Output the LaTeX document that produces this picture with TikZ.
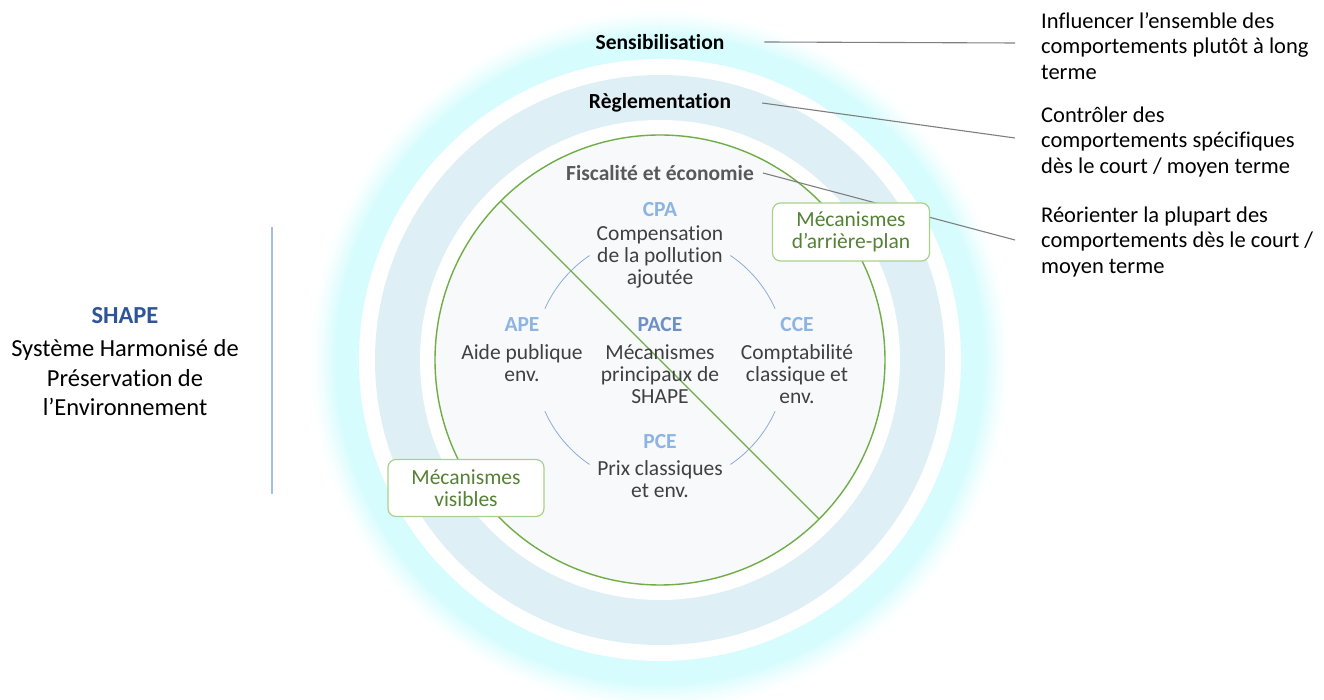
\documentclass[tikz,border=0pt]{standalone}
\usepackage{fontspec}
\setmainfont{Carlito}[Ligatures={NoCommon}]
\definecolor{glow}{RGB}{214,252,253}
\definecolor{ringblue}{RGB}{222,239,245}
\definecolor{innerfill}{RGB}{247,249,251}
\definecolor{circgreen}{RGB}{112,173,71}
\definecolor{mechgreen}{RGB}{84,130,53}
\definecolor{boxgreen}{RGB}{169,209,142}
\definecolor{acroblue}{RGB}{141,180,226}
\definecolor{paceblue}{RGB}{111,143,199}
\definecolor{shapeblue}{RGB}{47,85,151}
\definecolor{arcblue}{RGB}{143,170,220}
\definecolor{sideblue}{RGB}{164,189,230}
\definecolor{bodygray}{RGB}{64,64,64}
\definecolor{fiscgray}{RGB}{89,89,89}
\definecolor{leadgray}{RGB}{127,127,127}
\begin{document}
\begin{tikzpicture}[x=1pt, y=1pt,
    every node/.style={font=\fontsize{21.5}{22}\selectfont, align=center, inner sep=0pt},
    ringlabel/.style={font=\fontsize{21.5}{22}\selectfont\bfseries},
    acro/.style={font=\fontsize{21.5}{22}\selectfont\bfseries, text=acroblue},
    desc/.style={text=bodygray},
    mech/.style={draw=boxgreen, line width=1.2pt, fill=white, rounded corners=8pt, text=mechgreen, minimum width=157pt, minimum height=58pt},
    lead/.style={draw=leadgray, line width=1.1pt},
    cycarc/.style={draw=arcblue, line width=0.8pt},
    aim/.style={anchor=west, align=left, font=\fontsize{22.5}{25.5}\selectfont}]
    \useasboundingbox (-660,-340) rectangle (664,360);
    % rings, soft outer glow first
    \foreach \r in {350,349,...,324} {
        \pgfmathsetmacro\p{100*((350-\r)/26)^1.3}
        \fill[glow!\p!white] (0,0) circle (\r pt);
    }
    \fill[white] (0,0) circle (301pt);
    \fill[ringblue] (0,0) circle (285pt);
    \fill[white] (0,0) circle (240pt);
    \filldraw[fill=innerfill, draw=circgreen, line width=1.4pt] (0,0) circle (225pt);
    % cycle arcs
    \foreach \a in {24,124,204,304}
        \draw[cycarc] (\a:126pt) arc[start angle=\a, end angle=\a+32, radius=126pt];
    \draw[circgreen, line width=1.4pt] (135:225pt) -- (-45:225pt);
    % ring labels
    \node[ringlabel] (sens) at (0,318) {Sensibilisation};
    \node[ringlabel] (regl) at (0,257) {Règlementation};
    \node[ringlabel, text=fiscgray] (fisc) at (0,187) {Fiscalité et économie};
    % mechanisms
    \node[acro] (cpa) at (0,150) {CPA};
    \node[desc] (cpatxt) at (0,103) {Compensation\\de la pollution\\ajoutée};
    \node[acro] (ape) at (-138,35) {APE};
    \node[desc] (apetxt) at (-138,-3) {Aide publique\\env.};
    \node[acro, text=paceblue] (pace) at (0,35) {PACE};
    \node[desc] (pacetxt) at (0,-14) {Mécanismes\\principaux de\\SHAPE};
    \node[acro] (cce) at (137,35) {CCE};
    \node[desc] (ccetxt) at (137,-14) {Comptabilité\\classique et\\env.};
    \node[acro] (pce) at (0,-82) {PCE};
    \node[desc] (pcetxt) at (0,-119) {Prix classiques\\et env.};
    % aims on the right
    \node[aim] (aim1) at (381,314) {Influencer l’ensemble des\\comportements plutôt à long\\terme};
    \node[aim] (aim2) at (381,218) {Contrôler des\\comportements spécifiques\\dès le court / moyen terme};
    \node[aim] (aim3) at (381,118) {Réorienter la plupart des\\comportements dès le court /\\moyen terme};
    \coordinate (e1) at (355,317);
    \coordinate (e2) at (355,222);
    \coordinate (e3) at (355,120);
    \draw[lead] ([xshift=40pt]sens.east) -- (e1);
    \draw[lead] ([xshift=31pt]regl.east) -- (e2);
    \draw[lead] ([xshift=9pt]fisc.east) -- (e3);
    % mechanism boxes
    \node[mech] (bgmech) at (191,128) {Mécanismes\\d’arrière-plan};
    \node[mech, minimum width=156pt, minimum height=57pt] (vismech) at (-194,-128) {Mécanismes\\visibles};
    % left title
    \node[font=\fontsize{24.5}{29.5}\selectfont\bfseries, text=shapeblue] (shape) at (-535,44) {SHAPE};
    \node[font=\fontsize{24.5}{29.5}\selectfont] (shapetxt) at (-535,-18) {Système Harmonisé de\\Préservation de\\l’Environnement};
    \coordinate (v1) at (-388,133);
    \coordinate (v2) at (-388,-134);
    \draw[sideblue, line width=1.8pt] (v1) -- (v2);
\end{tikzpicture}
\end{document}
